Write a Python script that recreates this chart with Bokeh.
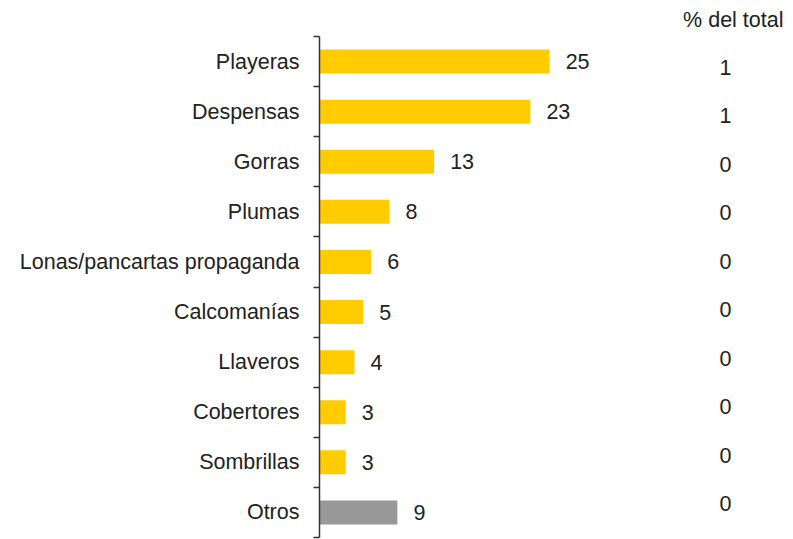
from bokeh.plotting import figure
from bokeh.models import (Range1d, LinearAxis, FixedTicker, ColumnDataSource,
                          Title)
from bokeh.core.properties import value
from bokeh.embed import file_html
from bokeh.resources import INLINE

categories = ["Playeras", "Despensas", "Gorras", "Plumas",
              "Lonas/pancartas propaganda", "Calcomanías", "Llaveros",
              "Cobertores", "Sombrillas", "Otros"]
bar_values = [26.3, 24.1, 13.1, 8.0, 5.9, 5.0, 4.0, 3.0, 3.0, 8.9]
value_labels = ["25", "23", "13", "8", "6", "5", "4", "3", "3", "9"]
pct_labels = ["1", "1", "0", "0", "0", "0", "0", "0", "0", "0"]
bar_colors = ["#FFCC00"] * 9 + ["#999999"]

FONT = "Liberation Sans"
FS = "21.5px"
TXT = "#222222"

n = len(categories)
centers = [i + 0.5 for i in range(n)]

src = ColumnDataSource(dict(y=centers, v=bar_values, lab=value_labels,
                            pct=pct_labels, c=bar_colors))

p = figure(width=793, height=539, output_backend="svg", toolbar_location=None,
           x_range=Range1d(0, 54.17), y_range=Range1d(n, 0),
           min_border_left=319, min_border_right=0, min_border_top=36,
           min_border_bottom=2, y_axis_location=None, x_axis_location=None)
p.outline_line_color = None
p.grid.visible = False
p.background_fill_color = "white"
p.border_fill_color = "white"

p.extra_y_ranges = {"pct": Range1d(10.2, -0.14)}

yaxis = LinearAxis(
    ticker=FixedTicker(ticks=centers, minor_ticks=list(range(n + 1))),
    major_label_overrides={c: cat for c, cat in zip(centers, categories)},
    major_tick_out=0, major_tick_in=0,
    minor_tick_out=6, minor_tick_in=0,
    minor_tick_line_color="#333333", axis_line_color="#333333",
    axis_line_width=1.5, minor_tick_line_width=1.5,
    major_label_standoff=14,
    major_label_text_font=FONT, major_label_text_font_size=FS,
    major_label_text_color=TXT)
p.add_layout(yaxis, "left")

p.hbar(y="y", left=0, right="v", height=0.48, color="c", line_color=None,
       source=src)
p.text(x="v", y="y", text="lab", x_offset=16, text_align="left",
       text_baseline="middle", text_font=value(FONT), text_font_size=FS,
       text_color=TXT, source=src)
p.text(x=46.4, y="y", text="pct", y_range_name="pct", text_align="center",
       text_baseline="middle", text_font=value(FONT), text_font_size=FS,
       text_color=TXT, source=src)

t = Title(text="% del total", align="right", text_font=FONT,
          text_font_size=FS, text_font_style="normal", text_color=TXT,
          offset=10)
p.add_layout(t, "above")

open("out.html", "w").write(file_html(p, INLINE))
